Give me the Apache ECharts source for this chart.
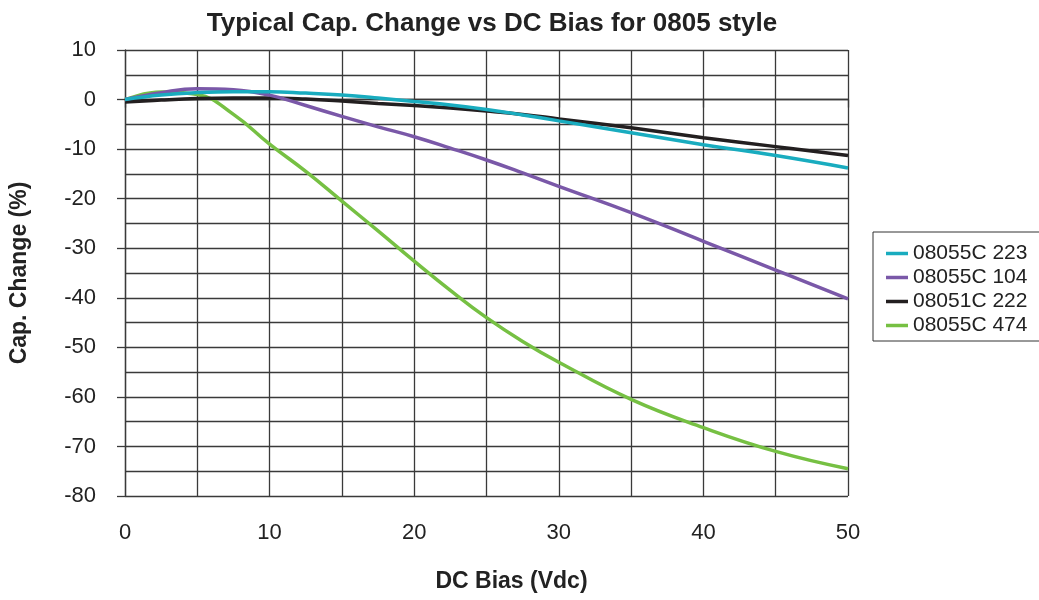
<!DOCTYPE html>
<html><head><meta charset="utf-8">
<script src="https://cdn.jsdelivr.net/npm/echarts@6/dist/echarts.min.js"></script>
<style>html,body{margin:0;padding:0;background:#fff}#c{width:1039px;height:600px}</style>
</head><body><div id="c"></div>
<script>
const biasVdc = [0, 2.5, 5, 7.5, 10, 12.5, 15, 17.5, 20, 22.5, 25, 27.5, 30, 35, 40, 45, 50];
const s223 = [0, 0.9, 1.4, 1.6, 1.6, 1.3, 0.9, 0.3, -0.4, -1.1, -2.0, -3.1, -4.3, -6.7, -9.1, -11.3, -13.8];
const s104 = [0, 1.4, 2.2, 2.0, 0.9, -1.2, -3.4, -5.5, -7.5, -9.8, -12.2, -14.8, -17.5, -22.8, -28.6, -34.4, -40.2];
const s222 = [-0.5, -0.1, 0.2, 0.3, 0.3, 0.1, -0.3, -0.8, -1.2, -1.7, -2.3, -3.0, -3.9, -5.7, -7.7, -9.5, -11.3];
const s474 = [0, 1.5, 1.0, -3.0, -9, -14.5, -20.5, -26.5, -32.6, -38.5, -44, -48.8, -53, -60.5, -66.2, -71, -74.5];
const names = ['08055C 223', '08055C 104', '08051C 222', '08055C 474'];
const colors = ['#19acbf', '#7a58a8', '#231f20', '#76c043'];
const xTicks = [0, 10, 20, 30, 40, 50];
const yTicks = [10, 0, -10, -20, -30, -40, -50, -60, -70, -80];

const font = "'Liberation Sans', Arial, sans-serif";
const pair = v => biasVdc.map((x, i) => [x, v[i]]);
const gridLine = { show: true, lineStyle: { color: '#3a3a3a', width: 1.3 } };
const chart = echarts.init(document.getElementById('c'));
const mk = (idx, vals) => ({
  name: names[idx], type: 'line', smooth: 0.45, symbol: 'none', showSymbol: false,
  data: pair(vals), lineStyle: { color: colors[idx], width: 3.5 }, itemStyle: { color: colors[idx] }
});
chart.setOption({
  animation: false,
  textStyle: { fontFamily: font },
  title: { text: 'Typical Cap. Change vs DC Bias for 0805 style', left: 487, top: 6, textAlign: 'center',
    textStyle: { fontFamily: font, fontSize: 26, fontWeight: 'bold', color: '#222' } },
  grid: { left: 124, right: 191, top: 50, bottom: 104 },
  legend: {
    data: names, orient: 'vertical', left: 873, top: 232,
    padding: [11, 40, 5, 13], itemGap: 3, itemWidth: 22, itemHeight: 3.5, icon: 'rect',
    borderColor: '#333', borderWidth: 1,
    textStyle: { fontFamily: font, fontSize: 21, color: '#222' }
  },
  xAxis: {
    type: 'value', min: xTicks[0], max: xTicks[xTicks.length - 1], interval: 10,
    name: 'DC Bias (Vdc)', nameLocation: 'middle', nameGap: 74,
    nameTextStyle: { fontFamily: font, fontSize: 23, fontWeight: 'bold', color: '#222', padding: [0, 0, 0, 50] },
    axisLine: { show: true, lineStyle: { color: '#3a3a3a', width: 1.3 } },
    axisTick: { show: true, length: 8, lineStyle: { color: '#3a3a3a', width: 1.3 } },
    axisLabel: { fontFamily: font, fontSize: 22, color: '#222', margin: 26 },
    splitLine: gridLine,
    minorTick: { show: false, splitNumber: 2 },
    minorSplitLine: gridLine
  },
  yAxis: {
    type: 'value', min: yTicks[yTicks.length - 1], max: yTicks[0], interval: 10,
    name: 'Cap. Change (%)', nameLocation: 'middle', nameGap: 94,
    nameTextStyle: { fontFamily: font, fontSize: 23, fontWeight: 'bold', color: '#222' },
    axisLine: { show: true, lineStyle: { color: '#3a3a3a', width: 1.3 } },
    axisTick: { show: true, length: 8, lineStyle: { color: '#3a3a3a', width: 1.3 } },
    axisLabel: { fontFamily: font, fontSize: 22, color: '#222', margin: 29 },
    splitLine: gridLine,
    minorTick: { show: false, splitNumber: 2 },
    minorSplitLine: gridLine
  },
  series: [mk(3, s474), mk(2, s222), mk(1, s104), mk(0, s223)]
});
</script></body></html>
